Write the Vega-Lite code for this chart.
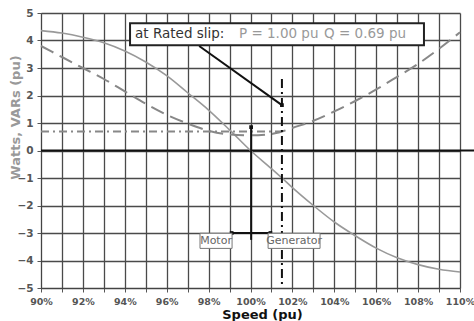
{
  "$schema": "https://vega.github.io/schema/vega-lite/v6.json",
  "width": 419,
  "height": 275,
  "autosize": "none",
  "padding": {"left": 41, "top": 13, "right": 14, "bottom": 33},
  "background": "white",
  "config": {
    "view": {"stroke": null},
    "font": "DejaVu Sans",
    "axis": {"labelOverlap": false, "labelBound": false}
  },
  "datasets": {
    "P": [
      {"s": 90, "v": 4.36}, {"s": 91, "v": 4.27}, {"s": 92, "v": 4.12}, {"s": 93, "v": 3.92},
      {"s": 94, "v": 3.62}, {"s": 95, "v": 3.22}, {"s": 96, "v": 2.72}, {"s": 97, "v": 2.1},
      {"s": 98, "v": 1.47}, {"s": 99, "v": 0.75}, {"s": 100, "v": 0.0}, {"s": 101, "v": -0.66},
      {"s": 101.5, "v": -1.0}, {"s": 102, "v": -1.35}, {"s": 103, "v": -2.0}, {"s": 104, "v": -2.6},
      {"s": 105, "v": -3.1}, {"s": 106, "v": -3.55}, {"s": 107, "v": -3.9}, {"s": 108, "v": -4.15},
      {"s": 109, "v": -4.32}, {"s": 110, "v": -4.42}
    ],
    "Q": [
      {"s": 90, "v": 3.8}, {"s": 91, "v": 3.4}, {"s": 92, "v": 3.0}, {"s": 93, "v": 2.6},
      {"s": 94, "v": 2.15}, {"s": 95, "v": 1.7}, {"s": 96, "v": 1.3}, {"s": 97, "v": 0.98},
      {"s": 98, "v": 0.72}, {"s": 99, "v": 0.58}, {"s": 100, "v": 0.55}, {"s": 101, "v": 0.6},
      {"s": 101.5, "v": 0.69}, {"s": 102, "v": 0.82}, {"s": 103, "v": 1.08}, {"s": 104, "v": 1.42},
      {"s": 105, "v": 1.8}, {"s": 106, "v": 2.22}, {"s": 107, "v": 2.68}, {"s": 108, "v": 3.15},
      {"s": 109, "v": 3.7}, {"s": 110, "v": 4.3}
    ]
  },
  "encoding": {
    "x": {
      "field": "s", "type": "quantitative",
      "scale": {"domain": [90, 110], "nice": false, "zero": false},
      "axis": {
        "title": "Speed (pu)",
        "titleFontSize": 13, "titleFontWeight": "bold", "titleColor": "#111",
        "titleX": 221, "titleY": 26, "titleBaseline": "middle",
        "values": [90,91,92,93,94,95,96,97,98,99,100,101,102,103,104,105,106,107,108,109,110],
        "labelExpr": "datum.value % 2 == 0 ? datum.value + '%' : ''",
        "labelFontSize": 9.5, "labelColor": "#555", "labelFontWeight": "bold",
        "labelPadding": 4, "tickSize": 4, "tickColor": "#555",
        "labelOverlap": false,
        "grid": true, "gridColor": "#4a4a4a", "gridWidth": 1.3,
        "domainColor": "#444", "labelFlush": false
      }
    },
    "y": {
      "field": "v", "type": "quantitative",
      "scale": {"domain": [-5, 5], "nice": false},
      "axis": {
        "title": "Watts, VARs (pu)",
        "titleFontSize": 13, "titleFontWeight": "bold", "titleColor": "#999",
        "titleX": -26, "titleY": 104, "titleBaseline": "middle", "titleAngle": -90,
        "values": [-5,-4,-3,-2,-1,0,1,2,3,4,5],
        "labelFontSize": 10.5, "labelColor": "#555", "labelFontWeight": "bold",
        "labelPadding": 4, "tickSize": 4, "tickColor": "#555",
        "labelOverlap": false,
        "grid": true, "gridColor": "#4a4a4a", "gridWidth": 1.3,
        "domainColor": "#444"
      }
    }
  },
  "layer": [
    {
      "data": {"values": [{"s": 90, "s2": 110.67, "v": 0}]},
      "mark": {"type": "rule", "color": "#111", "strokeWidth": 2},
      "encoding": {"x2": {"field": "s2"}}
    },
    {
      "data": {"values": [{"s": 90, "s2": 101.5, "v": 0.69}]},
      "mark": {"type": "rule", "color": "#888", "strokeWidth": 2, "strokeDash": [8, 4, 2, 4]},
      "encoding": {"x2": {"field": "s2"}}
    },
    {
      "data": {"name": "P"},
      "mark": {"type": "line", "color": "#999", "strokeWidth": 1.6, "interpolate": "monotone"},
      "encoding": {}
    },
    {
      "data": {"name": "Q"},
      "mark": {"type": "line", "color": "#888", "strokeWidth": 2, "strokeDash": [14, 7], "interpolate": "monotone"},
      "encoding": {}
    },
    {
      "data": {"values": [{"s": 101.5, "v": 2.6, "v2": -5}]},
      "mark": {"type": "rule", "color": "#111", "strokeWidth": 2, "strokeDash": [9, 4, 2, 4]},
      "encoding": {"y2": {"field": "v2"}}
    },
    {
      "data": {"values": [{"s": 97.55, "v": 3.8}, {"s": 101.5, "v": 1.65}]},
      "mark": {"type": "line", "color": "#111", "strokeWidth": 2},
      "encoding": {}
    },
    {
      "data": {"values": [{"s": 99.1, "s2": 100.95, "v": -3}]},
      "mark": {"type": "rule", "color": "#111", "strokeWidth": 2},
      "encoding": {"x2": {"field": "s2"}}
    },
    {
      "data": {"values": [{"s": 100.03, "v": 0.85, "v2": -3.25}]},
      "mark": {"type": "rule", "color": "#111", "strokeWidth": 2},
      "encoding": {"y2": {"field": "v2"}}
    },
    {
      "data": {"values": [{"s": 99.1, "v": -3}, {"s": 100.95, "v": -3}, {"s": 100.03, "v": 0.85}, {"s": 101.5, "v": 1.65}]},
      "mark": {"type": "point", "shape": "square", "filled": true, "color": "#111", "size": 14, "opacity": 1},
      "encoding": {}
    },
    {
      "data": {"values": [{"s": 94.25, "s2": 108.28, "v": 4.63, "v2": 3.83}]},
      "mark": {"type": "rect", "fill": "white", "stroke": "#222", "strokeWidth": 2},
      "encoding": {"x2": {"field": "s2"}, "y2": {"field": "v2"}}
    },
    {
      "data": {"values": [
        {"s": 94.49, "v": 4.24, "t": "at Rated slip:", "c": "a"},
        {"s": 99.45, "v": 4.24, "t": "P = 1.00 pu", "c": "b"},
        {"s": 103.51, "v": 4.24, "t": "Q = 0.69 pu", "c": "b"}
      ]},
      "mark": {"type": "text", "align": "left", "baseline": "middle", "fontSize": 13.5},
      "encoding": {
        "text": {"field": "t"},
        "color": {"field": "c", "type": "nominal", "scale": {"domain": ["a", "b"], "range": ["#333", "#999"]}, "legend": null}
      }
    },
    {
      "data": {"values": [{"s": 97.59, "s2": 99.12, "v": -3.01, "v2": -3.56}, {"s": 100.84, "s2": 103.32, "v": -3.01, "v2": -3.56}]},
      "mark": {"type": "rect", "fill": "white", "stroke": "#777", "strokeWidth": 1},
      "encoding": {"x2": {"field": "s2"}, "y2": {"field": "v2"}}
    },
    {
      "data": {"values": [{"s": 98.355, "v": -3.285, "t": "Motor"}, {"s": 102.08, "v": -3.285, "t": "Generator"}]},
      "mark": {"type": "text", "align": "center", "baseline": "middle", "fontSize": 11, "color": "#666"},
      "encoding": {"text": {"field": "t"}}
    }
  ]
}
